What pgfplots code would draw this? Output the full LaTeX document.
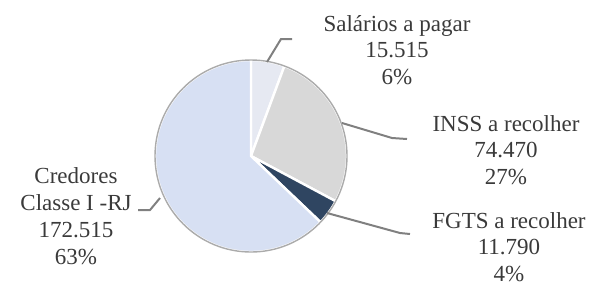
\documentclass[border=0pt]{standalone}
\usepackage{fontspec}
\setmainfont{Liberation Serif}
\usepackage{pgfplots}
\pgfplotsset{compat=1.18}
\definecolor{cSal}{HTML}{E6E9F2}
\definecolor{cINSS}{HTML}{D8D8D8}
\definecolor{cFGTS}{HTML}{2F4561}
\definecolor{cCred}{HTML}{D7E0F3}
\definecolor{cTxt}{HTML}{3A3A3A}
\definecolor{cLine}{HTML}{808080}
\definecolor{cRim}{HTML}{ABABAB}
\begin{document}
\begin{tikzpicture}
% values in thousands
\def\vSal{15.515}\def\vINSS{74.470}\def\vFGTS{11.790}\def\vCred{172.515}
\pgfmathsetmacro\tot{\vSal+\vINSS+\vFGTS+\vCred}
\pgfmathsetmacro\aA{90-360*(\vSal/\tot)}
\pgfmathsetmacro\aB{\aA-360*(\vINSS/\tot)}
\pgfmathsetmacro\aC{\aB-360*(\vFGTS/\tot)}
\pgfmathsetmacro\aD{\aC-360*(\vCred/\tot)}
\xdef\aA{\aA}\xdef\aB{\aB}\xdef\aC{\aC}\xdef\aD{\aD}
\useasboundingbox (0,0) rectangle (296pt,143pt);
\begin{axis}[hide axis, x=0.5pt, y=0.5pt, xmin=0, xmax=592, ymin=0, ymax=286,
  scale only axis, clip=false, at={(0,0)}, anchor=south west]
\def\R{48pt}
\fill[cSal, draw=white, line width=1.2pt] (axis cs:251,130) -- ++(90:\R) arc[start angle=90, end angle=\aA, radius=\R] -- cycle;
\fill[cINSS, draw=white, line width=1.2pt] (axis cs:251,130) -- ++(\aA:\R) arc[start angle=\aA, end angle=\aB, radius=\R] -- cycle;
\fill[cFGTS, draw=white, line width=1.2pt] (axis cs:251,130) -- ++(\aB:\R) arc[start angle=\aB, end angle=\aC, radius=\R] -- cycle;
\fill[cCred, draw=white, line width=1.2pt] (axis cs:251,130) -- ++(\aC:\R) arc[start angle=\aC, end angle=\aD, radius=\R] -- cycle;
\draw[cRim, line width=0.7pt] (axis cs:251,130) circle[radius=\R];
% leader lines
\draw[cLine, line width=1pt] (axis cs:267,224) -- (axis cs:281,247) -- (axis cs:292,247);
\draw[cLine, line width=1pt] (axis cs:342,163) -- (axis cs:392,148) -- (axis cs:407,147);
\draw[cLine, line width=1pt] (axis cs:327,73) -- (axis cs:400,53) -- (axis cs:410,52);
\draw[cLine, line width=1pt] (axis cs:160,88) -- (axis cs:150,76) -- (axis cs:138,76);
% labels
\tikzset{lab/.style={align=center, text=cTxt, inner sep=0pt, font=\fontsize{11.5}{13.4}\selectfont}}
\node[lab] at (axis cs:397,236) {Salários a pagar\\15.515\\6\%};
\node[lab] at (axis cs:506,136) {INSS a recolher\\74.470\\27\%};
\node[lab] at (axis cs:509,39) {FGTS a recolher\\11.790\\4\%};
\node[lab] at (axis cs:76,70) {Credores\\Classe I -RJ\\172.515\\63\%};
\end{axis}
\end{tikzpicture}
\end{document}
